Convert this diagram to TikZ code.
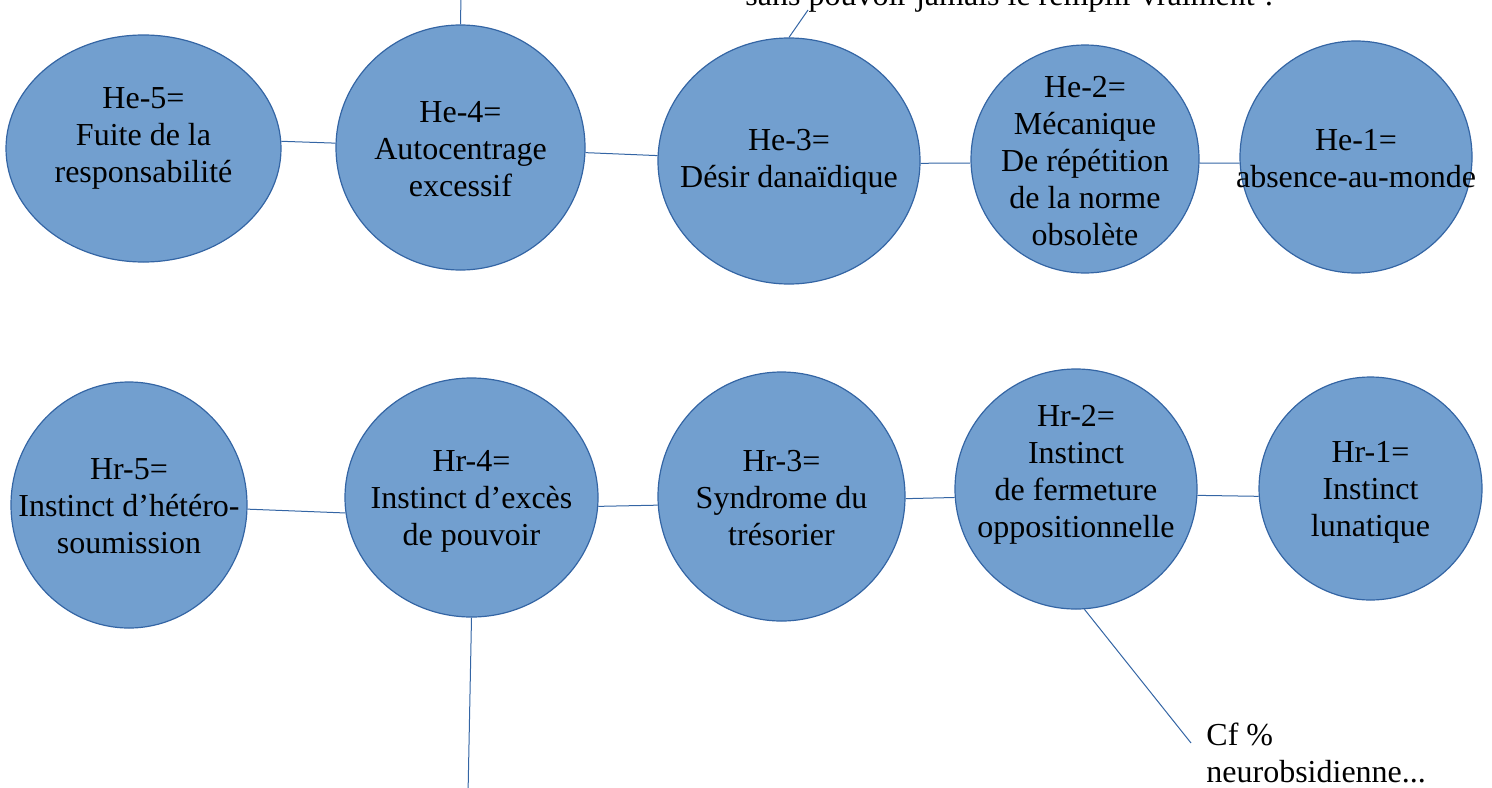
\documentclass[tikz,border=0pt]{standalone}
\usepackage{fontspec}
\setmainfont{Liberation Serif}
\usetikzlibrary{shapes.geometric}
\definecolor{bubblefill}{HTML}{729FCF}
\definecolor{bubbleedge}{HTML}{3465A4}
\begin{document}
\begin{tikzpicture}[x=0.5pt,y=-0.5pt,
  bubble/.style={ellipse,draw=bubbleedge,fill=bubblefill,line width=0.6pt,inner sep=0pt},
  txt/.style={align=center,font=\fontsize{16pt}{18.5pt}\selectfont,inner sep=0pt},
  link/.style={draw=bubbleedge,line width=0.5pt}]
\useasboundingbox (0,0) rectangle (1492,787);
\clip (0,0) rectangle (1492,787);

% upper row: He-5 ... He-1
\node[bubble,minimum width=137.5pt,minimum height=113.5pt] (he5) at (143.5,148.5) {};
\node[bubble,minimum width=124.5pt,minimum height=122.5pt] (he4) at (460.5,147.5) {};
\node[bubble,minimum width=131pt,minimum height=123pt] (he3) at (789,161) {};
\node[bubble,minimum width=114pt,minimum height=114pt] (he2) at (1085,159) {};
\node[bubble,minimum width=116pt,minimum height=116pt] (he1) at (1356,157) {};

% lower row: Hr-5 ... Hr-1
\node[bubble,minimum width=118pt,minimum height=123pt] (hr5) at (129,505) {};
\node[bubble,minimum width=126.5pt,minimum height=119.5pt] (hr4) at (471.5,497.5) {};
\node[bubble,minimum width=123.5pt,minimum height=124.5pt] (hr3) at (781.5,496.5) {};
\node[bubble,minimum width=121pt,minimum height=120pt] (hr2) at (1076,489) {};
\node[bubble,minimum width=111.5pt,minimum height=111.5pt] (hr1) at (1370.5,488.5) {};

% free ends of the outgoing lines
\coordinate (up4) at (461,-5);
\coordinate (up3) at (808,10);
\coordinate (down4) at (468,795);
\coordinate (cfend) at (1191,743);

% connectors
\draw[link] (he5.3) -- (he4.178);
\draw[link] (he4) -- (he3);
\draw[link] (he3.-1.5) -- (he2.182.5);
\draw[link] (he2.-2) -- (he1.183);
\draw[link] (he4.north) -- (up4);
\draw[link] (he3.north) -- (up3);

\draw[link] (hr5.-2) -- (hr4.187);
\draw[link] (hr4.-4) -- (hr3.184);
\draw[link] (hr3.-1.5) -- (hr2.184);
\draw[link] (hr2.-3.5) -- (hr1.184);
\draw[link] (hr4.south) -- (down4);
\draw[link] (hr2.-86) -- (cfend);

% texts
\node[txt] (the5) at (143.5,138) {He-5=\\Fuite de la\\responsabilité};
\node[txt] (the4) at (460.5,149) {He-4=\\Autocentrage\\excessif};
\node[txt] (the3) at (789,162) {He-3=\\Désir danaïdique};
\node[txt] (the2) at (1085,161) {He-2=\\Mécanique\\De répétition\\de la norme\\obsolète};
\node[txt] (the1) at (1356,159) {He-1=\\absence-au-monde};

\node[txt] (thr5) at (129,506) {Hr-5=\\Instinct d’hétéro-\\soumission};
\node[txt] (thr4) at (471.5,501) {Hr-4=\\Instinct d’excès\\de pouvoir};
\node[txt] (thr3) at (781.5,498) {Hr-3=\\Syndrome du\\trésorier};
\node[txt] (thr2) at (1076,475) {Hr-2=\\Instinct\\de fermeture\\oppositionnelle};
\node[txt] (thr1) at (1370.5,492) {Hr-1=\\Instinct\\lunatique};

\node[txt,align=left,anchor=west] (cf) at (1206,753) {Cf \%\\neurobsidienne...};
\node[txt,anchor=base west] (question) at (745,5) {sans pouvoir jamais le remplir vraiment ?};
\end{tikzpicture}
\end{document}
